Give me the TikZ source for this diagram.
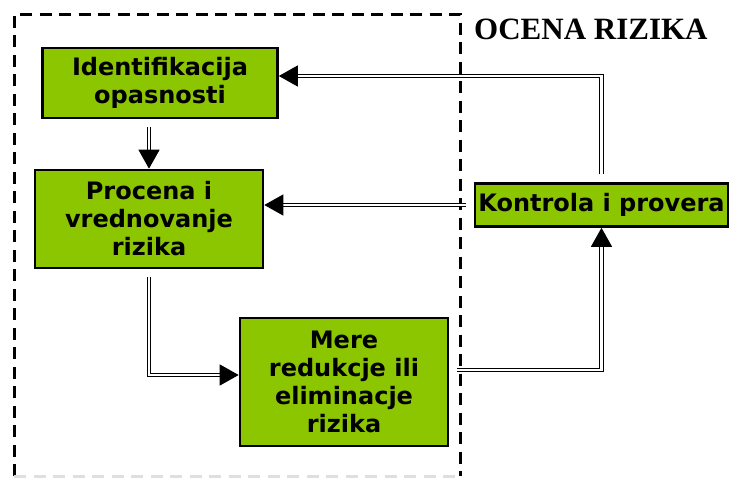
\documentclass[tikz,border=0pt]{standalone}
\usepackage{fontspec}
\usepackage{xcolor}
\usepackage{tikz}
\usetikzlibrary{arrows.meta, positioning, calc}
\newfontfamily\boxfont{DejaVu Sans}
\newfontfamily\titlefont{Liberation Serif}
\definecolor{boxgreen}{RGB}{140,198,0}

\begin{document}
\begin{tikzpicture}[
    x=1pt, y=-1pt,
    box/.style={draw=black, fill=boxgreen, line width=2.6pt, inner sep=0pt, align=center,
                font=\boxfont\bfseries\fontsize{24}{28}\selectfont},
    frame/.style={line width=3pt, dash pattern=on 12pt off 7.5pt},
    dbl/.style={double, draw=black, double=white, line width=1.2pt, double distance=2.2pt,
                -{Triangle[length=19pt, width=21pt]}, shorten <=8pt},
    titletext/.style={font=\titlefont\bfseries\fontsize{31}{34}\selectfont, inner sep=0pt},
]
\useasboundingbox (0,0) rectangle (732,479);

% === Dashed frame ===
\draw[frame] (14,476) -- (14,14) -- (460,14) -- (460,476);
\draw[frame, gray!25] (14,476) -- (460,476);
\node[titletext, anchor=west] (ttl) at (474,29) {OCENA RIZIKA};

% === Boxes ===
\node[box, minimum width=235pt, minimum height=70pt] (ident) at (160,83) {Identifikacija\\opasnosti};
\node[box, minimum width=228pt, minimum height=98pt] (proc) at (149,219) {Procena i\\vrednovanje\\rizika};
\node[box, minimum width=208pt, minimum height=128pt] (mere) at (344,382) {Mere\\redukcje ili\\eliminacje\\rizika};
\node[box, minimum width=253pt, minimum height=43pt] (kon) at (601.5,205) {Kontrola i provera};

% === Connectors ===
\coordinate (identin) at ([yshift=7pt]ident.east);
\coordinate (merein) at ([yshift=7pt]mere.west);
\coordinate (mereout) at ([yshift=12pt]mere.east);

\draw[dbl] (ident.south -| proc.north) -- (proc.north);
\draw[dbl] (proc.south) |- (merein);
\draw[dbl] (mereout) -| (kon.south);
\draw[dbl] (kon.west) -- (kon.west -| proc.east);
\draw[dbl] (kon.north) |- (identin);

\end{tikzpicture}
\end{document}
